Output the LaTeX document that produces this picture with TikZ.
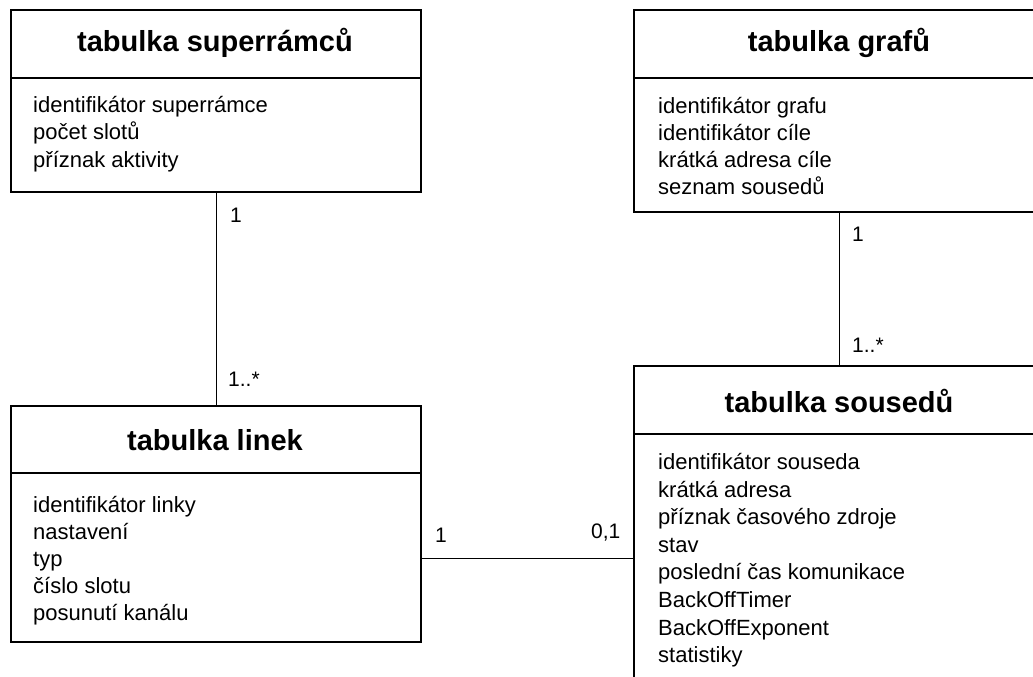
\documentclass[tikz,border=0pt]{standalone}
\usepackage{fontspec}
\setmainfont{Liberation Sans}
\begin{document}
\begin{tikzpicture}[x=1pt,y=-1pt,
  tbox/.style={draw,line width=2pt,rectangle,anchor=north west,inner sep=0pt},
  sep/.style={line width=2pt},
  conn/.style={line width=1pt},
  ttl/.style={inner sep=0pt,anchor=base,font=\fontsize{29}{34}\selectfont\bfseries},
  attr/.style={inner sep=0pt,anchor=base west,font=\fontsize{22}{27}\selectfont},
  mult/.style={inner sep=0pt,anchor=base west,font=\fontsize{21}{25}\selectfont}]
\useasboundingbox (0,0) rectangle (1033,677);
\clip (0,0) rectangle (1033,677);
\fill[white] (0,0) rectangle (1033,677);

% tables
\node[tbox,minimum width=410pt,minimum height=182pt] (sup) at (10,9) {};
\node[tbox,minimum width=412pt,minimum height=202pt] (graf) at (633,9) {};
\node[tbox,minimum width=410pt,minimum height=236pt] (lin) at (10,405) {};
\node[tbox,minimum width=412pt,minimum height=340pt] (sou) at (633,365) {};

% header separators
\draw[sep] (10,78) -- (420,78);
\draw[sep] (633,78) -- (1045,78);
\draw[sep] (10,473) -- (420,473);
\draw[sep] (633,434) -- (1045,434);

% titles
\node[ttl] (supT) at (215,52) {tabulka superrámců};
\node[ttl] (grafT) at (839,52) {tabulka grafů};
\node[ttl] (linT) at (215,450) {tabulka linek};
\node[ttl] (souT) at (839,412) {tabulka sousedů};

% attributes
\node[attr] (s1) at (33,112) {identifikátor superrámce};
\node[attr] (s2) at (33,139.5) {počet slotů};
\node[attr] (s3) at (33,167) {příznak aktivity};

\node[attr] (g1) at (658,113) {identifikátor grafu};
\node[attr] (g2) at (658,140) {identifikátor cíle};
\node[attr] (g3) at (658,167) {krátká adresa cíle};
\node[attr] (g4) at (658,194.5) {seznam sousedů};

\node[attr] (l1) at (33,512) {identifikátor linky};
\node[attr] (l2) at (33,539) {nastavení};
\node[attr] (l3) at (33,566) {typ};
\node[attr] (l4) at (33,593) {číslo slotu};
\node[attr] (l5) at (33,620) {posunutí kanálu};

\node[attr] (n1) at (658,469) {identifikátor souseda};
\node[attr] (n2) at (658,497) {krátká adresa};
\node[attr] (n3) at (658,524) {příznak časového zdroje};
\node[attr] (n4) at (658,552) {stav};
\node[attr] (n5) at (658,579.5) {poslední čas komunikace};
\node[attr] (n6) at (658,607) {BackOffTimer};
\node[attr] (n7) at (658,635) {BackOffExponent};
\node[attr] (n8) at (658,662.5) {statistiky};

% associations
\coordinate (hc) at (0,558);
\draw[conn] (sup.south) -- (sup.south |- lin.north);
\draw[conn] (graf.south -| 839,0) -- (sou.north -| 839,0);
\draw[conn] (lin.east |- hc) -- (sou.west |- hc);

% multiplicities
\node[mult] (m1) at (230,222) {1};
\node[mult] (m2) at (228,386) {1..*};
\node[mult] (m3) at (852,241) {1};
\node[mult] (m4) at (852,352) {1..*};
\node[mult] (m5) at (435,542) {1};
\node[mult] (m6) at (591,538) {0,1};
\end{tikzpicture}
\end{document}
